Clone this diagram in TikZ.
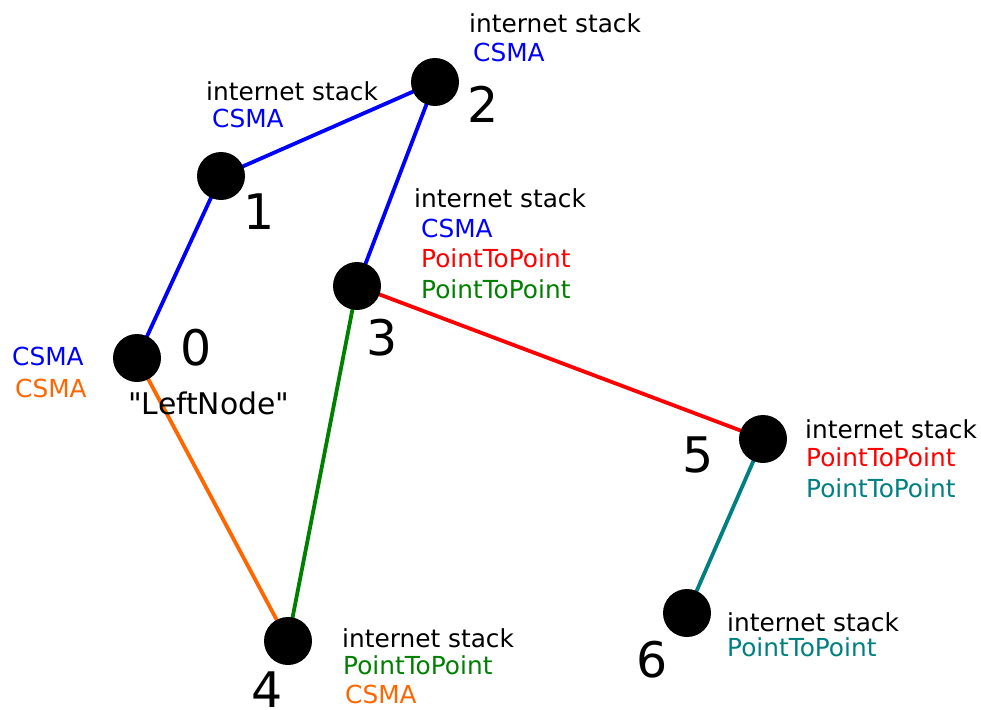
\documentclass[tikz,border=0pt]{standalone}
\usepackage{fontspec}
\setmainfont{DejaVu Sans}
\newfontfamily\qfont{DejaVu Sans}[Ligatures=TeXOff]
\definecolor{cblue}{RGB}{0,0,255}
\definecolor{cred}{RGB}{255,0,0}
\definecolor{cgreen}{RGB}{0,128,0}
\definecolor{corange}{RGB}{255,102,0}
\definecolor{cteal}{RGB}{0,128,128}
\begin{document}
\begin{tikzpicture}[x=1pt,y=-1pt,
  dot/.style={circle,fill=black,inner sep=0pt,minimum size=48pt},
  num/.style={inner sep=0pt,font=\fontsize{49}{49}\selectfont},
  lbl/.style={anchor=base west,inner sep=0pt,font=\fontsize{24.8}{24.8}\selectfont},
  biglbl/.style={anchor=base west,inner sep=0pt,font=\qfont\fontsize{29.8}{29.8}\selectfont},
  link/.style={line width=3.8pt}]
\useasboundingbox (0,0) rectangle (981,709);
% links (drawn first, under the dots)
\coordinate (c0) at (137,358);
\coordinate (c1) at (221,176);
\coordinate (c2) at (435,82);
\coordinate (c3) at (357,286);
\coordinate (c4) at (288,641);
\coordinate (c5) at (763,439);
\coordinate (c6) at (687,613);
\draw[link,cblue] (c0) -- (c1);
\draw[link,cblue] (c1) -- (c2);
\draw[link,cblue] (c2) -- (c3);
\draw[link,cred] (c3) -- (c5);
\draw[link,cgreen] (c3) -- (c4);
\draw[link,corange] (c0) -- (c4);
\draw[link,cteal] (c5) -- (c6);
% nodes
\node[dot] (n0) at (c0) {};
\node[dot] (n1) at (c1) {};
\node[dot] (n2) at (c2) {};
\node[dot] (n3) at (c3) {};
\node[dot] (n4) at (c4) {};
\node[dot] (n5) at (c5) {};
\node[dot] (n6) at (c6) {};
% numbers
\node[num] (d0) at (196,348) {0};
\node[num] (d1) at (259,212) {1};
\node[num] (d2) at (483,104) {2};
\node[num] (d3) at (382,338) {3};
\node[num] (d4) at (267,690) {4};
\node[num] (d5) at (698,455) {5};
\node[num] (d6) at (652,660) {6};
% labels node 0
\node[lbl,cblue] (l0a) at (12,365) {CSMA};
\node[lbl,corange] (l0b) at (15,397) {CSMA};
\node[biglbl] (l0c) at (128,414) {"LeftNode"};
% node 1
\node[lbl] (l1a) at (206,100) {internet stack};
\node[lbl,cblue] (l1b) at (212,127) {CSMA};
% node 2
\node[lbl] (l2a) at (469,33) {internet stack};
\node[lbl,cblue] (l2b) at (473,62) {CSMA};
% node 3
\node[lbl] (l3a) at (414,207) {internet stack};
\node[lbl,cblue] (l3b) at (421,237) {CSMA};
\node[lbl,cred] (l3c) at (421,267) {PointToPoint};
\node[lbl,cgreen] (l3d) at (421,298) {PointToPoint};
% node 4
\node[lbl] (l4a) at (342,647) {internet stack};
\node[lbl,cgreen] (l4b) at (343,674) {PointToPoint};
\node[lbl,corange] (l4c) at (345,703) {CSMA};
% node 5
\node[lbl] (l5a) at (805,438) {internet stack};
\node[lbl,cred] (l5b) at (806,466) {PointToPoint};
\node[lbl,cteal] (l5c) at (806,497) {PointToPoint};
% node 6
\node[lbl] (l6a) at (727,631) {internet stack};
\node[lbl,cteal] (l6b) at (727,656) {PointToPoint};
\end{tikzpicture}
\end{document}
